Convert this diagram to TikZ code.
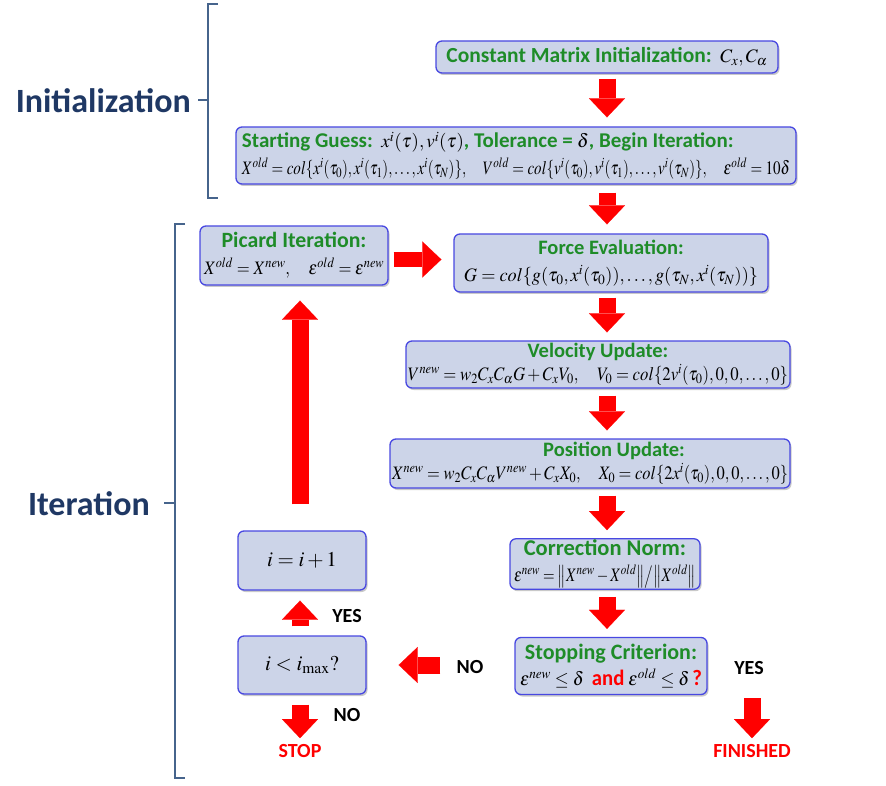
\documentclass[tikz,border=0pt]{standalone}
\usepackage{mathptmx}
\usepackage{graphicx}
\usepackage{fontspec}
\setmainfont{Carlito}
\usetikzlibrary{arrows.meta,shadows}
\definecolor{boxfill}{RGB}{204,212,232}
\definecolor{boxdraw}{RGB}{72,72,225}
\definecolor{tgreen}{RGB}{30,140,40}
\definecolor{navy}{RGB}{31,56,100}
\definecolor{brk}{RGB}{70,100,140}
\newcommand{\ttl}[2]{{\fontsize{#1}{#1}\selectfont\bfseries\color{tgreen}#2}}
\newcommand{\fitw}[2]{\resizebox{#1}{\height}{#2}}
\begin{document}
\begin{tikzpicture}[x=1pt,y=-1pt,
  box/.style={draw=boxdraw, line width=1.3pt, fill=boxfill, rounded corners=6pt,
    align=center, inner sep=1pt, font=\fontsize{19}{21}\selectfont,
    drop shadow={shadow xshift=1.5pt,shadow yshift=-2pt,opacity=0.3,fill=black!70}},
  barrow/.style={draw=red, line width=17pt,
    -{Triangle[length=19pt,width=36pt,line width=0.1pt]}},
  yn/.style={font=\fontsize{20}{22}\selectfont\bfseries, inner sep=0pt},
  endlab/.style={font=\fontsize{20}{22}\selectfont\bfseries, text=red, inner sep=0pt},
  grp/.style={font=\fontsize{34}{36}\selectfont\bfseries, text=navy, inner sep=0pt, anchor=east},
  brack/.style={draw=brk, line width=2pt}]
\useasboundingbox (0,0) rectangle (886,786);

% brackets
\draw[brack] (218,4) -- (208,4) -- (208,198) -- (218,198);
\draw[brack] (208,100) -- (198,100);
\node[grp] (ini) at (191,101) {Initialization};
\draw[brack] (185,224) -- (175,224) -- (175,778) -- (185,778);
\draw[brack] (175,503) -- (164,503);
\node[grp] (itr) at (150,504) {Iteration};

% boxes
\node[box, minimum width=342pt, minimum height=32pt] (cmi) at (607,57)
  {\ttl{21.5}{Constant Matrix Initialization:}\ \ $C_x,C_\alpha$};
\node[box, minimum width=560pt, minimum height=57pt, align=left] (sg) at (516,155.5)
  {\ttl{21}{Starting Guess:}\ \ $x^i(\tau),v^i(\tau)$\ttl{21}{, Tolerance =} $\delta$\ttl{21}{, Begin Iteration:}\\[4pt]
   \fitw{548pt}{$X^{old}=col\{x^i(\tau_0),x^i(\tau_1),\ldots,x^i(\tau_N)\},\quad V^{old}=col\{v^i(\tau_0),v^i(\tau_1),\ldots,v^i(\tau_N)\},\quad \varepsilon^{old}=10\delta$}};
\node[box, minimum width=188pt, minimum height=59pt] (pic) at (294,255.5)
  {\ttl{21.8}{Picard Iteration:}\\[6pt] \fitw{180pt}{$X^{old}=X^{new},\quad \varepsilon^{old}=\varepsilon^{new}$}};
\node[box, minimum width=314pt, minimum height=58pt] (force) at (611,263)
  {\ttl{20.5}{Force Evaluation:}\\[6pt] \fitw{294pt}{$G=col\{g(\tau_0,x^i(\tau_0)),\ldots,g(\tau_N,x^i(\tau_N))\}$}};
\node[box, minimum width=384pt, minimum height=47pt] (vel) at (598,364.5)
  {\ttl{20.5}{Velocity Update:}\\[2pt] \fitw{380pt}{$V^{new}=w_2C_xC_\alpha G+C_xV_0,\quad V_0=col\{2v^i(\tau_0),0,0,\ldots,0\}$}};
\node[box, minimum width=400pt, minimum height=49pt] (pos) at (590,463.5)
  {\hspace*{48pt}\ttl{20.5}{Position Update:}\\[2pt] \fitw{396pt}{$X^{new}=w_2C_xC_\alpha V^{new}+C_xX_0,\quad X_0=col\{2x^i(\tau_0),0,0,\ldots,0\}$}};
\node[box, minimum width=190pt, minimum height=50pt] (corr) at (605,564)
  {\ttl{22.5}{Correction Norm:}\\[5pt] \fitw{182pt}{$\varepsilon^{new}=\big\|X^{new}-X^{old}\big\|\big/\big\|X^{old}\big\|$}};
\node[box, minimum width=192pt, minimum height=57pt] (stop) at (611,666)
  {\ttl{22}{Stopping Criterion:}\\[5pt] \fitw{182pt}{$\varepsilon^{new}\le\delta$\ \ {\fontsize{22}{22}\selectfont\bfseries\color{red}and}\ $\varepsilon^{old}\le\delta$\,{\fontsize{22}{22}\selectfont\bfseries\color{red}?}}};
\node[box, minimum width=128pt, minimum height=59pt, font=\fontsize{21}{23}\selectfont] (inc) at (302,560.5) {$i=i+1$};
\node[box, minimum width=128pt, minimum height=58pt, font=\fontsize{21}{23}\selectfont] (chk) at (302,665) {$i<i_{\max}?$};

% labels
\node[yn] (yes1) at (347,616) {YES};
\node[yn] (no1) at (347,715) {NO};
\node[yn] (no2) at (470,667) {NO};
\node[yn] (yes2) at (749,668) {YES};
\node[endlab] (stp) at (300,751) {STOP};
\node[endlab] (fin) at (752,751) {FINISHED};

% block arrows
\draw[barrow, shorten <=5pt, shorten >=9pt] (cmi.south) -- (cmi.south |- sg.north);
\draw[barrow, shorten <=8pt, shorten >=9pt] (sg.south -| cmi.south) -- (force.north -| cmi.south);
\draw[barrow, shorten <=5pt, shorten >=8pt] (force.south -| cmi.south) -- (vel.north -| cmi.south);
\draw[barrow, shorten <=7pt, shorten >=8pt] (vel.south -| cmi.south) -- (pos.north -| cmi.south);
\draw[barrow, shorten <=7pt, shorten >=8pt] (pos.south -| cmi.south) -- (corr.north -| cmi.south);
\draw[barrow, shorten <=7pt, shorten >=8pt] (corr.south -| cmi.south) -- (stop.north -| cmi.south);
\draw[barrow, line width=15pt, shorten <=5pt, shorten >=12pt] ([yshift=-4pt]pic.east) -- ([yshift=-4pt]pic.east -| force.west);
\draw[barrow, shorten <=26pt, shorten >=15pt] (inc.north -| stp) -- (pic.south -| stp);
\draw[barrow, shorten <=9pt, shorten >=10pt] (chk.north -| stp) -- (inc.south -| stp);
\draw[barrow, shorten <=74pt, shorten >=32pt] (stop.west |- chk.east) -- (chk.east);
\draw[barrow, shorten <=10pt, shorten >=6pt] (chk.south -| stp) -- (stp.north);
\draw[barrow, shorten <=3pt, shorten >=6pt] (fin.north |- stop.south) -- (fin.north);
\end{tikzpicture}
\end{document}
